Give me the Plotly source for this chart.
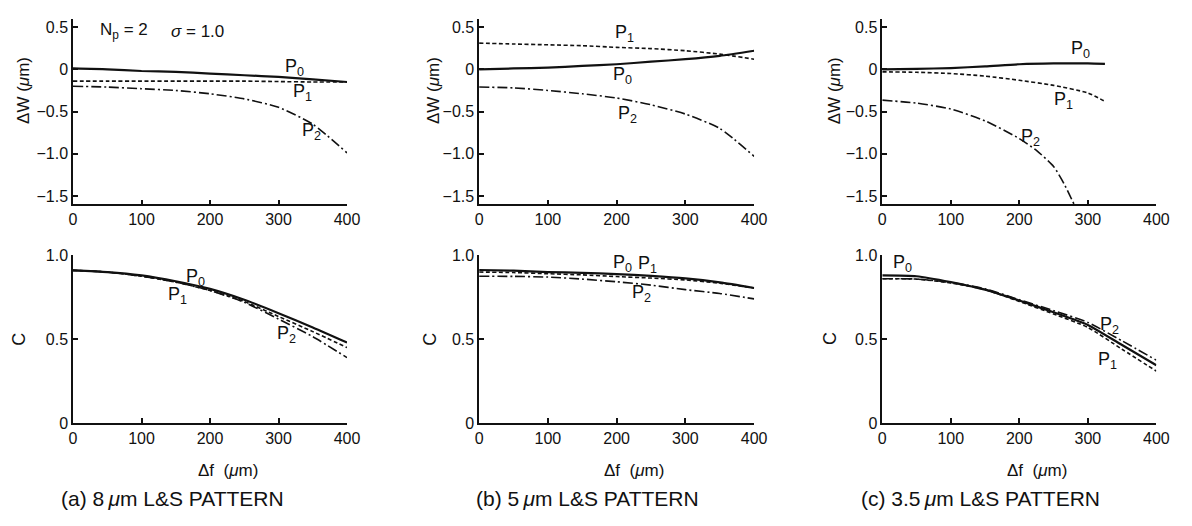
import plotly.graph_objects as go
from plotly.subplots import make_subplots

# ---------------- data ----------------
df = [0, 50, 100, 150, 200, 250, 300, 350, 400]

# (a) 8 um L&S
a_dw_p0 = [0.01, 0.0, -0.02, -0.03, -0.05, -0.07, -0.09, -0.12, -0.15]
a_dw_p1 = [-0.14, -0.14, -0.14, -0.14, -0.14, -0.14, -0.145, -0.15, -0.15]
a_dw_p2 = [-0.20, -0.21, -0.23, -0.25, -0.29, -0.35, -0.45, -0.65, -0.99]
a_c_p0 = [0.91, 0.90, 0.88, 0.845, 0.80, 0.735, 0.655, 0.57, 0.48]
a_c_p1 = [0.91, 0.90, 0.875, 0.84, 0.79, 0.725, 0.635, 0.545, 0.45]
a_c_p2 = [0.91, 0.90, 0.875, 0.84, 0.79, 0.72, 0.62, 0.515, 0.39]

# (b) 5 um L&S
b_dw_p0 = [0.0, 0.01, 0.02, 0.04, 0.06, 0.09, 0.12, 0.16, 0.22]
b_dw_p1 = [0.31, 0.30, 0.29, 0.28, 0.26, 0.245, 0.22, 0.18, 0.12]
b_dw_p2 = [-0.21, -0.22, -0.25, -0.29, -0.34, -0.42, -0.53, -0.70, -1.03]
b_c_p0 = [0.912, 0.908, 0.90, 0.895, 0.888, 0.877, 0.862, 0.838, 0.805]
b_c_p1 = [0.90, 0.897, 0.89, 0.883, 0.873, 0.864, 0.853, 0.833, 0.805]
b_c_p2 = [0.875, 0.874, 0.87, 0.858, 0.842, 0.822, 0.795, 0.772, 0.74]

# (c) 3.5 um L&S
c_df_01 = [0, 50, 100, 150, 200, 250, 300, 325]
c_dw_p0 = [0.0, 0.005, 0.015, 0.035, 0.06, 0.07, 0.07, 0.065]
c_dw_p1 = [-0.03, -0.035, -0.05, -0.08, -0.13, -0.19, -0.28, -0.38]
c_df_2 = [0, 50, 100, 150, 200, 225, 250, 265, 280]
c_dw_p2 = [-0.365, -0.40, -0.47, -0.61, -0.82, -0.96, -1.15, -1.35, -1.6]
c_c_p0 = [0.88, 0.875, 0.84, 0.795, 0.73, 0.66, 0.585, 0.465, 0.345]
c_c_p1 = [0.86, 0.858, 0.835, 0.795, 0.725, 0.65, 0.57, 0.44, 0.31]
c_c_p2 = [0.86, 0.858, 0.838, 0.80, 0.735, 0.67, 0.60, 0.49, 0.375]

x_ticks = [0, 100, 200, 300, 400]
dw_ticks = [-1.5, -1.0, -0.5, 0, 0.5]
dw_tick_text = ["\u22121.5", "\u22121.0", "\u22120.5", "0", "0.5"]
c_ticks = [0, 0.5, 1.0]
c_tick_text = ["0", "0.5", "1.0"]
captions = ["(a) 8\u2009<i>\u03bc</i>m L&amp;S PATTERN",
            "(b) 5\u2009<i>\u03bc</i>m L&amp;S PATTERN",
            "(c) 3.5\u2009<i>\u03bc</i>m L&amp;S PATTERN"]

# ---------------- figure ----------------
W, H = 1192, 526
FONT = "Liberation Sans, Arial, Helvetica, sans-serif"
INK = "#111111"

fig = make_subplots(rows=2, cols=3)

styles = {
    "P0": dict(color=INK, width=2.2),
    "P1": dict(color=INK, width=1.6, dash="4px,2.5px"),
    "P2": dict(color=INK, width=1.6, dash="10px,3px,2px,3px"),
}

def add(x, y, key, r, c):
    fig.add_trace(go.Scatter(x=x, y=y, mode="lines", line=dict(shape="spline", smoothing=0.6, **styles[key]),
                             name=key, showlegend=False, hoverinfo="skip", cliponaxis=True), row=r, col=c)

add(df, a_dw_p0, "P0", 1, 1); add(df, a_dw_p1, "P1", 1, 1); add(df, a_dw_p2, "P2", 1, 1)
add(df, b_dw_p0, "P0", 1, 2); add(df, b_dw_p1, "P1", 1, 2); add(df, b_dw_p2, "P2", 1, 2)
add(c_df_01, c_dw_p0, "P0", 1, 3); add(c_df_01, c_dw_p1, "P1", 1, 3); add(c_df_2, c_dw_p2, "P2", 1, 3)
add(df, a_c_p0, "P0", 2, 1); add(df, a_c_p1, "P1", 2, 1); add(df, a_c_p2, "P2", 2, 1)
add(df, b_c_p0, "P0", 2, 2); add(df, b_c_p1, "P1", 2, 2); add(df, b_c_p2, "P2", 2, 2)
add(df, c_c_p0, "P0", 2, 3); add(df, c_c_p1, "P1", 2, 3); add(df, c_c_p2, "P2", 2, 3)

col_px = [(70, 348), (482, 761), (891, 1169)]
top_px = (11, 203)
bot_px = (255.5, 429)

def px_x(p):
    return p / W

def px_y(p):
    return 1 - p / H

axis_common = dict(showline=True, linecolor=INK, linewidth=1.5, ticks="inside", ticklen=5,
                   tickwidth=1.5, tickcolor=INK, showgrid=False, zeroline=False,
                   tickfont=dict(family=FONT, size=16, color=INK), mirror=False)

for i, (x0, x1) in enumerate(col_px):
    n_top = i + 1
    n_bot = i + 4
    xd = [px_x(x0), px_x(x1)]
    fig.layout[f"xaxis{'' if n_top == 1 else n_top}"].update(
        domain=xd, range=[0, 400], tickvals=x_ticks, **axis_common)
    fig.layout[f"yaxis{'' if n_top == 1 else n_top}"].update(
        domain=[px_y(top_px[1]), px_y(top_px[0])], range=[-1.6, 0.6],
        tickvals=dw_ticks, ticktext=dw_tick_text, **axis_common)
    fig.layout[f"xaxis{n_bot}"].update(domain=xd, range=[0, 400], tickvals=x_ticks, **axis_common)
    fig.layout[f"yaxis{n_bot}"].update(domain=[px_y(bot_px[1]), px_y(bot_px[0])], range=[0, 1.0],
                                       tickvals=c_ticks, ticktext=c_tick_text, **axis_common)

ann = []

def lab(text, x, y, xref, yref, size=18, xanchor="center", yanchor="middle", **kw):
    ann.append(dict(text=text, x=x, y=y, xref=xref, yref=yref, showarrow=False,
                    xanchor=xanchor, yanchor=yanchor,
                    font=dict(family=FONT, size=size, color=INK), **kw))

P = {k: f"P<sub>{k[1]}</sub>" for k in ["P0", "P1", "P2"]}

# curve labels (data coordinates)
lab(P["P0"], 324, 0.02, "x", "y"); lab(P["P1"], 335, -0.27, "x", "y"); lab(P["P2"], 348, -0.74, "x", "y")
lab(P["P1"], 211, 0.42, "x2", "y2"); lab(P["P0"], 208, -0.07, "x2", "y2"); lab(P["P2"], 216, -0.54, "x2", "y2")
lab(P["P0"], 289, 0.23, "x3", "y3"); lab(P["P1"], 265, -0.37, "x3", "y3"); lab(P["P2"], 217, -0.81, "x3", "y3")
lab(P["P0"], 179, 0.87, "x4", "y4"); lab(P["P1"], 152, 0.76, "x4", "y4"); lab(P["P2"], 312, 0.53, "x4", "y4")
lab(P["P0"], 209, 0.95, "x5", "y5"); lab(P["P1"], 245, 0.945, "x5", "y5"); lab(P["P2"], 236, 0.77, "x5", "y5")
lab(P["P0"], 30, 0.95, "x6", "y6"); lab(P["P2"], 331, 0.58, "x6", "y6"); lab(P["P1"], 328, 0.375, "x6", "y6")

# parameters
lab("N<sub>p</sub> = 2", 37, 0.45, "x", "y", size=17, xanchor="left")
lab("<i>\u03c3</i> = 1.0", 140, 0.45, "x", "y", size=17, xanchor="left")

# axis titles and captions (paper coordinates)
dw_title_x = [20, 435, 842]
c_title_x = [15, 432, 838]
for i, (x0, x1) in enumerate(col_px):
    lab("\u0394W (<i>\u03bc</i>m)", px_x(dw_title_x[i]), px_y(85), "paper", "paper", size=17, textangle=-90)
    lab("C", px_x(c_title_x[i]), px_y(342), "paper", "paper", size=18, textangle=-90)
    lab("\u0394f  (<i>\u03bc</i>m)", px_x((x0 + x1) / 2 + 18), px_y(478), "paper", "paper", size=17)

cap_cx = [171, 592, 991]
for i in range(3):
    lab(captions[i], px_x(cap_cx[i]), px_y(507), "paper", "paper", size=21)

fig.update_layout(width=W, height=H, margin=dict(l=0, r=0, t=0, b=0),
                  paper_bgcolor="white", plot_bgcolor="white",
                  font=dict(family=FONT, color=INK), annotations=ann, showlegend=False)

fig.write_html("out.html")
